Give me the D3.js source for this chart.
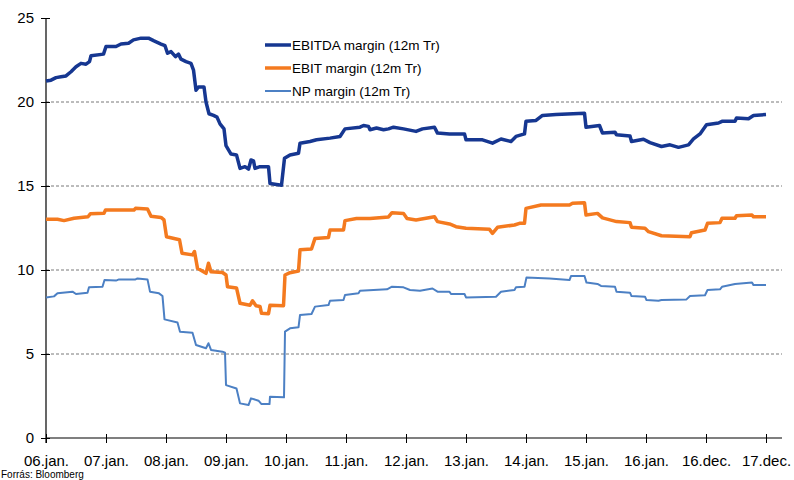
<!DOCTYPE html>
<html>
<head>
<meta charset="utf-8">
<script src="https://cdn.jsdelivr.net/npm/d3@7"></script>
<style>
  body { margin: 0; background: #fff; }
  svg text { font-family: "Liberation Sans", Arial, Helvetica, sans-serif; fill: #000; }
</style>
</head>
<body>
<svg id="chart" width="794" height="480"></svg>
<script>
// x positions are months counted from jan 2006
const tickLabels = ["06.jan.", "07.jan.", "08.jan.", "09.jan.", "10.jan.", "11.jan.", "12.jan.",
  "13.jan.", "14.jan.", "15.jan.", "16.jan.", "16.dec.", "17.dec."];
const yTicks = [0, 5, 10, 15, 20, 25];
const seriesNames = ["EBITDA margin (12m Tr)", "EBIT margin (12m Tr)", "NP margin (12m Tr)"];

const ebitdaMonths = [0, 1, 2, 3, 4, 5, 6, 7, 8, 8.7, 9, 11.5, 12, 14, 15, 16.5, 17.5, 19, 20.5, 21.5, 23, 23.8,
  24.3, 25, 25.9, 26.5, 27, 28, 29, 29.5, 30, 30.5, 31.6, 32, 32.6, 33.5, 34.2, 34.8, 35.6, 36, 37, 38.1,
  38.8, 39.8, 40.5, 41, 41.5, 41.8, 42.8, 44.5, 44.8, 47.1, 47.7, 48.8, 50.5, 50.8, 52.8, 54.1, 56.8, 58.8,
  59.8, 62.8, 63.5, 64.5, 64.8, 66.1, 67.5, 68.5, 69.5, 71.5, 74, 75.3, 77.7, 78.3, 80.7, 83.7, 84, 87.3,
  89.3, 91, 93, 94, 95.7, 96, 98, 99.3, 102, 107.7, 108, 110.7, 111.3, 113.8, 114.1, 116.8, 117.1, 119.5,
  120.8, 123.1, 124.8, 126.5, 128.5, 129.5, 130.8, 132.1, 134.5, 135.2, 137.8, 138.1, 140.5, 141.5, 144];
const ebitdaValues = [21.25, 21.3, 21.45, 21.5, 21.55, 21.8, 22.1, 22.3, 22.25, 22.4, 22.75, 22.85, 23.3, 23.3,
  23.45, 23.5, 23.7, 23.8, 23.8, 23.65, 23.45, 23.35, 22.9, 23.0, 22.7, 22.85, 22.55, 22.4, 22.3, 21.9, 20.7,
  20.9, 20.9, 20.0, 19.3, 19.2, 19.1, 18.7, 18.4, 17.4, 16.9, 16.85, 16.05, 16.15, 16.0, 16.55, 16.5, 16.05,
  16.15, 16.15, 15.15, 15.05, 16.65, 16.85, 16.95, 17.55, 17.65, 17.75, 17.85, 17.95, 18.4, 18.5, 18.6, 18.55,
  18.35, 18.45, 18.35, 18.4, 18.5, 18.4, 18.25, 18.4, 18.5, 18.15, 18.1, 18.1, 17.75, 17.75, 17.55, 17.8,
  17.65, 17.95, 18.1, 18.85, 18.9, 19.2, 19.25, 19.33, 18.5, 18.6, 18.15, 18.2, 18.05, 17.98, 17.65, 17.78,
  17.58, 17.35, 17.45, 17.3, 17.45, 17.8, 18.1, 18.65, 18.75, 18.85, 18.85, 19.05, 19.0, 19.2, 19.25];

const ebitMonths = [0, 2.3, 3.6, 5.6, 8.4, 8.9, 11.6, 11.9, 17.6, 17.9, 20.3, 21, 23, 23.6, 24.1, 26.7, 27.2,
  29.3, 29.7, 30.3, 32, 32.5, 33, 35.3, 36, 36.3, 38.1, 38.8, 40.8, 41.3, 42, 42.8, 43.1, 44.5, 44.8, 47.5,
  47.8, 48.8, 50.5, 50.8, 53.1, 53.8, 56.5, 56.8, 59.5, 59.8, 62.1, 64.8, 68.5, 69.2, 71.5, 72.2, 74, 77.7,
  78.3, 80.7, 82, 84, 88.7, 89.3, 90.3, 93.7, 94.7, 95.7, 96, 99, 104.7, 105.3, 107.7, 108, 110.3, 111.3,
  114.1, 116.8, 117.1, 119.8, 120.5, 123.1, 128.8, 129.1, 131.8, 132.3, 134.8, 135.2, 137.8, 138.1, 141.2,
  141.5, 144];
const ebitValues = [13.02, 13.02, 12.94, 13.08, 13.17, 13.35, 13.38, 13.57, 13.57, 13.67, 13.63, 13.2, 13.13,
  12.98, 11.98, 11.8, 11.0, 10.9, 11.1, 10.1, 9.8, 10.4, 9.9, 9.85, 9.7, 9.0, 8.93, 8.02, 7.9, 8.17, 7.87,
  7.83, 7.42, 7.4, 7.9, 7.87, 9.7, 9.84, 9.94, 11.2, 11.25, 11.88, 11.94, 12.38, 12.38, 12.94, 13.06, 13.06,
  13.16, 13.41, 13.37, 13.06, 12.98, 13.17, 12.88, 12.74, 12.58, 12.48, 12.42, 12.18, 12.54, 12.68, 12.78,
  12.78, 13.67, 13.87, 13.87, 13.97, 14.0, 13.27, 13.37, 13.1, 12.88, 12.82, 12.54, 12.48, 12.28, 12.04,
  11.98, 12.22, 12.38, 12.78, 12.82, 13.08, 13.08, 13.23, 13.27, 13.17, 13.17];

const npMonths = [0, 1.6, 2.3, 5.3, 6, 8.3, 8.6, 11.3, 11.7, 14, 14.6, 17.9, 18.3, 20.3, 20.8, 22.6, 23.3,
  23.7, 26.3, 26.8, 29.3, 30, 32, 32.5, 33, 35.3, 35.8, 36, 38.1, 38.8, 40.5, 41, 42.5, 43.1, 44.7, 44.8,
  47.6, 47.8, 48.8, 50.5, 50.8, 53.1, 53.8, 56.5, 56.8, 59.5, 59.8, 62.5, 62.8, 68.2, 69.2, 71.5, 72.8, 74.8,
  77.3, 78.3, 80.7, 81, 83.7, 84, 90, 91, 93.7, 94, 95.7, 96.1, 100.7, 104.7, 105, 107.7, 108.1, 110.3, 111,
  113.8, 114.1, 116.8, 117.1, 119.8, 120.1, 122.5, 123.1, 128.1, 128.8, 131.8, 132.3, 134.8, 135.2, 137.8,
  141.2, 141.5, 144];
const npValues = [8.37, 8.43, 8.61, 8.71, 8.57, 8.65, 8.97, 9.0, 9.4, 9.37, 9.44, 9.44, 9.5, 9.44, 8.71, 8.61,
  8.45, 7.06, 6.87, 6.33, 6.27, 5.54, 5.34, 5.64, 5.24, 5.14, 5.08, 3.15, 2.95, 2.06, 1.96, 2.36, 2.22, 2.02,
  2.02, 2.46, 2.42, 6.33, 6.53, 6.59, 7.32, 7.38, 7.82, 7.91, 8.17, 8.21, 8.51, 8.61, 8.77, 8.85, 9.01, 8.97,
  8.81, 8.77, 8.9, 8.71, 8.71, 8.57, 8.57, 8.37, 8.41, 8.71, 8.81, 8.97, 9.0, 9.56, 9.5, 9.4, 9.64, 9.64,
  9.25, 9.17, 9.05, 9.0, 8.71, 8.65, 8.45, 8.41, 8.21, 8.17, 8.21, 8.25, 8.45, 8.5, 8.81, 8.85, 9.0, 9.17,
  9.25, 9.1, 9.1];

const colors = ["#163791", "#f47a1f", "#4c80c4"];
const widths = [3.5, 3.5, 2];

const series = [
  { months: ebitdaMonths, values: ebitdaValues },
  { months: ebitMonths, values: ebitValues },
  { months: npMonths, values: npValues },
];

const svg = d3.select("#chart");
const x = d3.scaleLinear().domain([0, 147.2]).range([46, 782]);
const y = d3.scaleLinear().domain([0, 25]).range([438, 18]);

// Grid lines
svg.append("g")
  .selectAll("line")
  .data(yTicks.filter((d) => d > 0 && d < 25))
  .enter()
  .append("line")
  .attr("x1", x(0))
  .attr("x2", x.range()[1])
  .attr("y1", (d) => y(d))
  .attr("y2", (d) => y(d))
  .attr("stroke", "#555")
  .attr("stroke-width", 0.8)
  .attr("stroke-dasharray", "3,2");

// Y axis
const yAxis = svg.append("g")
  .attr("transform", `translate(${x(0)},0)`)
  .call(d3.axisLeft(y).tickValues(yTicks).tickSize(5).tickPadding(7));
yAxis.selectAll(".tick line").attr("x2", -5).attr("x1", 4);
yAxis.selectAll("text").style("font-size", "15px");
yAxis.select(".domain").attr("d", `M0,${y(25)}V${y(0) + 5}`).attr("stroke-width", 1.2);

// X axis
const xAxis = svg.append("g")
  .attr("transform", `translate(0,${y(0)})`)
  .call(d3.axisBottom(x)
    .tickValues(tickLabels.map((_, i) => i * 12))
    .tickFormat((d, i) => tickLabels[i])
    .tickSize(5)
    .tickPadding(12));
xAxis.selectAll(".tick line").attr("y1", -4).attr("y2", 5);
xAxis.selectAll("text").style("font-size", "15px");
xAxis.select(".domain").attr("d", `M${x(0)},0H${x.range()[1]}`).attr("stroke-width", 1.2);

// Lines
const line = d3.line()
  .x((d) => x(d[0]))
  .y((d) => y(d[1]));

series.forEach((s, i) => {
  svg.append("path")
    .datum(d3.zip(s.months, s.values))
    .attr("fill", "none")
    .attr("stroke", colors[i])
    .attr("stroke-width", widths[i])
    .attr("stroke-linejoin", "round")
    .attr("d", line);
});

// Legend
const legend = svg.append("g").attr("transform", "translate(265,45)");
seriesNames.forEach((name, i) => {
  const row = legend.append("g").attr("transform", `translate(0,${i * 23})`);
  row.append("line")
    .attr("x1", 0).attr("x2", 26)
    .attr("stroke", colors[i])
    .attr("stroke-width", widths[i]);
  row.append("text")
    .attr("x", 27).attr("y", 5)
    .style("font-size", "13.5px")
    .text(name);
});

// Source
svg.append("text")
  .attr("x", 1).attr("y", 478)
  .style("font-size", "10px")
  .text("Forrás: Bloomberg");
</script>
</body>
</html>
